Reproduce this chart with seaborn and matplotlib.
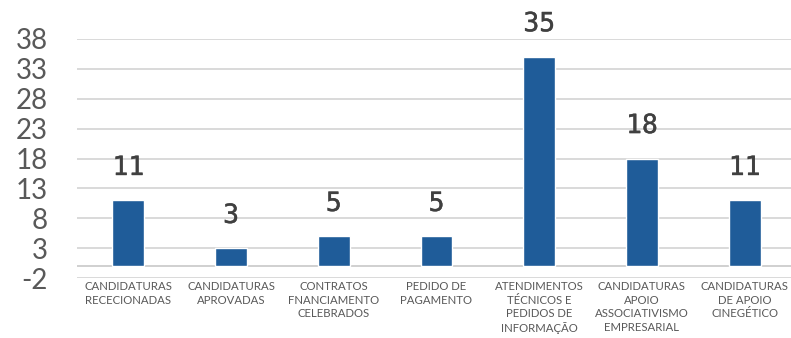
import matplotlib
matplotlib.use("Agg")
import matplotlib.pyplot as plt
import matplotlib.patheffects as pe
from matplotlib.font_manager import FontProperties
import seaborn as sns
import pandas as pd

categories = [
    "CANDIDATURAS\nRECECIONADAS",
    "CANDIDATURAS\nAPROVADAS",
    "CONTRATOS\nFNANCIAMENTO\nCELEBRADOS",
    "PEDIDO DE\nPAGAMENTO",
    "ATENDIMENTOS\nTÉCNICOS E\nPEDIDOS DE\nINFORMAÇÃO",
    "CANDIDATURAS\nAPOIO\nASSOCIATIVISMO\nEMPRESARIAL",
    "CANDIDATURAS\nDE APOIO\nCINEGÉTICO",
]
values = [11, 3, 5, 5, 35, 18, 11]
yticks = [-2, 3, 8, 13, 18, 23, 28, 33, 38]

sns.set_theme(style="white")
plt.rcParams['font.family'] = ['Lato', 'DejaVu Sans']

df = pd.DataFrame({"cat": categories, "val": values})

fig = plt.figure(figsize=(7.91, 3.38), dpi=100)
ax = fig.add_axes([77/791, 1-278.3/338, 719/791, (278.3-38.7)/338])

grid_c = "#d9d9d9"
for t in yticks:
    ax.axhline(t, color=grid_c, lw=1.4, zorder=0)
ax.axhline(0, color="#d0d0d0", lw=1.4, zorder=0)

sns.barplot(data=df, x="cat", y="val", order=categories, color="#1F5C99",
            saturation=1, width=0.31, ax=ax, zorder=2)

ax.set_ylim(-2, 38)
ax.set_xlim(-0.5, 6.5)
ax.set_yticks(yticks)
ax.set_yticklabels([str(t) for t in yticks], fontsize=20, color="#595959")
ax.tick_params(axis="y", length=0, pad=21)
ax.tick_params(axis="x", length=0, pad=2)
for lbl in ax.get_xticklabels():
    lbl.set_fontsize(8.2)
    lbl.set_color("#595959")
    lbl.set_linespacing(1.3)
ax.set_xlabel("")
ax.set_ylabel("")
for s in ax.spines.values():
    s.set_visible(False)

mono = FontProperties(family=["DejaVu Sans Mono"], size=19)
for i, v in enumerate(values):
    ax.annotate(str(v), (i, v), xytext=(0, 14), textcoords="offset points",
                ha="center", va="bottom", color="#404040",
                fontproperties=mono,
                path_effects=[pe.withStroke(linewidth=0.3, foreground="#404040")])

fig.savefig("out.png", dpi=100)
